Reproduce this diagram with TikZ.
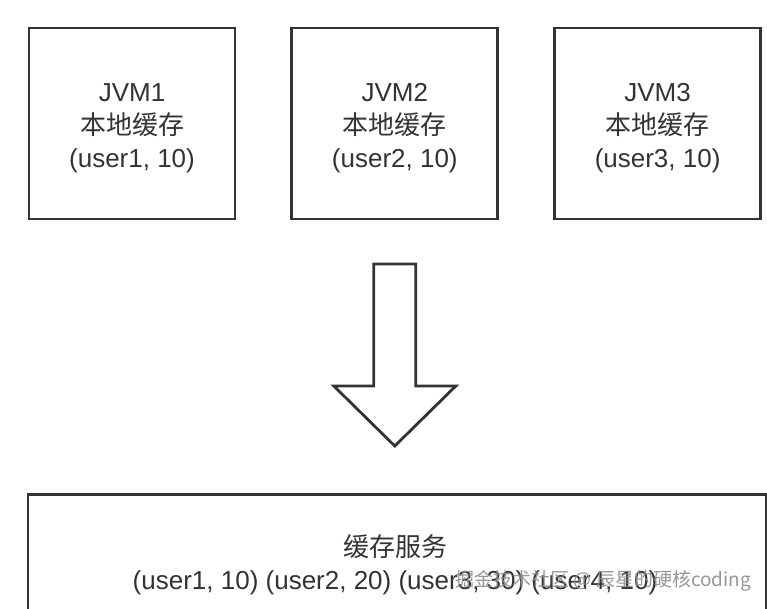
\documentclass[tikz,border=0pt]{standalone}
\usepackage{fontspec}
\setmainfont{Liberation Sans}
\newfontfamily\cjk{Noto Sans CJK SC}
\usetikzlibrary{positioning,calc}
\definecolor{ink}{HTML}{333333}

\begin{document}
\begin{tikzpicture}[
  x=1pt, y=-1pt,
  node distance=54pt,
  every node/.style={font=\fontsize{26}{33}\selectfont, align=center, text=ink},
  jvm/.style={draw=ink, line width=2.8pt, minimum width=206pt, minimum height=191pt, inner sep=0pt},
  store/.style={draw=ink, line width=2.8pt, minimum width=738pt, minimum height=160pt, inner sep=0pt},
  hollow/.style={draw=ink, line width=2.8pt, line join=miter, fill=white},
  stamp/.style={font=\fontsize{19}{24}\selectfont, text=black!45, opacity=0.9}
]
\clip (0,0) rectangle (767,609);
\fill[white] (0,0) rectangle (767,609);
\node[jvm] (jvm1) at (132,123.5) {};
\node[jvm, right=of jvm1] (jvm2) {};
\node[jvm, right=of jvm2] (jvm3) {};
\node (jvm1text) at ($(jvm1.center)+(0,5)$) {JVM1\\{\cjk 本地缓存}\\(user1, 10)};
\node (jvm2text) at ($(jvm2.center)+(0,5)$) {JVM2\\{\cjk 本地缓存}\\(user2, 10)};
\node (jvm3text) at ($(jvm3.center)+(0,5)$) {JVM3\\{\cjk 本地缓存}\\(user3, 10)};
\node[store, anchor=north] (service) at (397,493) {};
\node (servicetext) at (395,565) {{\cjk 缓存服务}\\(user1, 10) (user2, 20) (user3, 30) (user4, 10)};
% big hollow arrow between the two rows
\coordinate (tail) at (jvm2.south |- 0,264);
\coordinate (tip) at (jvm2.south |- 0,446);
\draw[hollow] ($(tail)+(-21,0)$) -- ($(tail)+(21,0)$) -- ($(tail)+(21,122)$) -- ($(tail)+(61,122)$)
  -- (tip) -- ($(tail)+(-61,122)$) -- ($(tail)+(-21,122)$) -- cycle;
\node[stamp, anchor=west] (watermark) at (452,581) {\cjk 掘金技术社区 @ 辰星的硬核coding};
\end{tikzpicture}
\end{document}
